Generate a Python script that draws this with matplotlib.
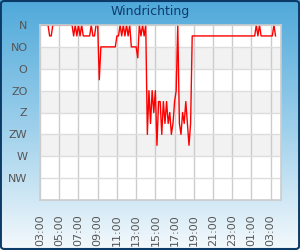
import datetime as dt
import numpy as np
import matplotlib
matplotlib.use("Agg")
import matplotlib.pyplot as plt
import matplotlib.dates as mdates
from matplotlib.patches import FancyBboxPatch

# wind direction (degrees), one reading every 10 minutes from 03:00
start = dt.datetime(2024, 1, 1, 3, 0)
step_min = 10
richting = [
    0, 0, 0, 0, 0, 0, 22.5, 22.5,
    0, 0, 0, 0, 0, 0, 0, 0, 0, 0, 0, 0, 0,
    22.5, 0, 22.5, 0, 22.5, 0, 22.5,
    22.5, 22.5, 22.5, 22.5, 0, 22.5, 22.5, 0, 0, 112.5,
    45, 45, 45, 45, 45, 45, 45, 45, 45, 45,
    22.5, 22.5, 0, 22.5, 0, 22.5, 0, 22.5, 0,
    45, 45, 45, 45, 67.5,
    0, 22.5, 0, 22.5, 0,
    225, 135, 202.5, 135, 180, 135, 247.5, 157.5, 157.5, 225,
    157.5, 202.5, 157.5, 202.5, 180, 225, 202.5, 157.5, 135, 0,
    202.5, 225, 180, 202.5, 157.5, 202.5, 247.5, 202.5,
    22.5, 22.5, 22.5, 22.5, 22.5, 22.5, 22.5, 22.5, 22.5, 22.5,
    22.5, 22.5, 22.5, 22.5, 22.5, 22.5, 22.5, 22.5, 22.5, 22.5,
    22.5, 22.5, 22.5, 22.5, 22.5, 22.5, 22.5, 22.5, 22.5, 22.5,
    22.5, 22.5, 22.5, 22.5, 22.5, 22.5, 22.5, 22.5, 22.5, 22.5,
    0, 22.5, 0, 22.5,
    22.5, 22.5, 22.5, 22.5, 22.5, 22.5, 22.5,
    0, 22.5,
]
tijden = [start + dt.timedelta(minutes=step_min * i) for i in range(len(richting))]

windstreken = ["N", "NO", "O", "ZO", "Z", "ZW", "W", "NW"]
graden = [0, 45, 90, 135, 180, 225, 270, 315]
banden = [(45, 90), (135, 180), (225, 270)]

fig = plt.figure(figsize=(3, 2.5), dpi=100)

# gradient background
bg = fig.add_axes([0, 0, 1, 1], zorder=-10)
grad = np.linspace(0, 1, 256).reshape(-1, 1)
cmap = matplotlib.colors.LinearSegmentedColormap.from_list(
    "bg", ["#4fa9da", "#9ccfeb", "#f4f9fc"])
bg.imshow(grad, aspect="auto", cmap=cmap, extent=[0, 1, 0, 1])
bg.set_xlim(0, 1)
bg.set_ylim(0, 1)
bg.axis("off")
bg.add_patch(FancyBboxPatch((0.003, 0.004), 0.994, 0.992,
                            boxstyle="round,pad=0,rounding_size=0.012",
                            transform=bg.transAxes, fill=False,
                            ec="#0b3a66", lw=1.5))

ax = fig.add_axes([40 / 300, 50 / 250, 241 / 300, 175 / 250])
ax.set_facecolor("white")
for lo, hi in banden:
    ax.axhspan(lo, hi, color="#f2f2f2", lw=0, zorder=0)

ax.plot(tijden, richting, color="#ff0000", lw=1.0, zorder=3)

ax.set_ylim(360, 0)
ax.set_yticks(graden)
ax.set_yticklabels(windstreken)
ax.set_xlim(start, start + dt.timedelta(hours=25.07))
ax.xaxis.set_major_locator(mdates.HourLocator(byhour=range(1, 24, 2)))
ax.xaxis.set_major_formatter(mdates.DateFormatter("%H:%M"))
plt.setp(ax.get_xticklabels(), rotation=90)

ax.tick_params(axis="both", length=0, labelsize=8, labelcolor="#555555")
ax.tick_params(axis="y", pad=9)
ax.tick_params(axis="x", pad=10)
ax.grid(True, axis="x", color="#cccccc", lw=1.0, zorder=1)
ax.grid(True, axis="y", color="#dddddd", lw=1.0, zorder=1)
ax.set_axisbelow(True)
for s in ax.spines.values():
    s.set_color("#cccccc")
    s.set_linewidth(1.2)
    s.set_zorder(4)

fig.text(0.5, 1 - 12 / 250, "Windrichting", ha="center", va="center",
         color="#0c3c6c", fontsize=9)

fig.savefig("out.png", dpi=100)
